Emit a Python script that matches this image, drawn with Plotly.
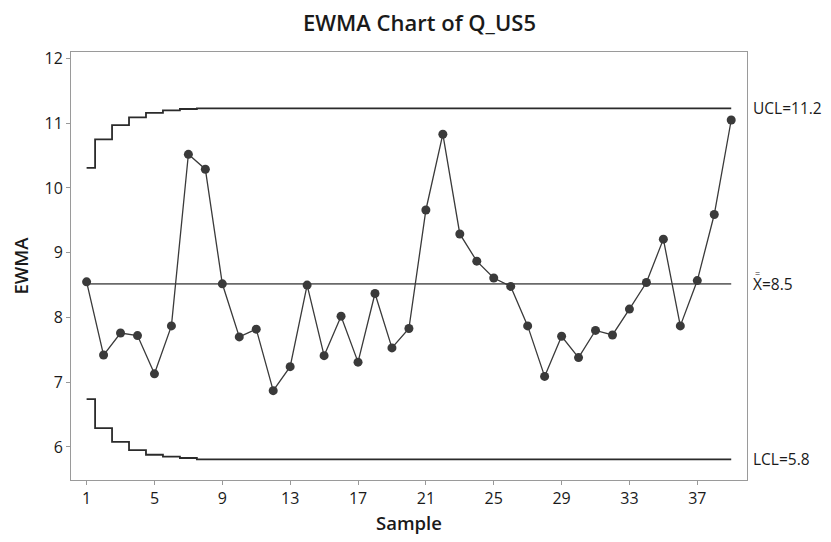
import plotly.graph_objects as go

samples = list(range(1, 40))
ewma = [8.55, 7.42, 7.76, 7.72, 7.13, 7.87, 10.52, 10.29, 8.52, 7.70,
        7.82, 6.87, 7.24, 8.50, 7.41, 8.02, 7.31, 8.37, 7.53, 7.83,
        9.66, 10.83, 9.29, 8.87, 8.61, 8.48, 7.87, 7.09, 7.71, 7.38,
        7.80, 7.73, 8.13, 8.54, 9.21, 7.87, 8.57, 9.59, 11.05]
ucl = [10.31, 10.75, 10.97, 11.09, 11.16, 11.20, 11.22, 11.23, 11.23, 11.23,
       11.23, 11.23, 11.23, 11.23, 11.23, 11.23, 11.23, 11.23, 11.23, 11.23,
       11.23, 11.23, 11.23, 11.23, 11.23, 11.23, 11.23, 11.23, 11.23, 11.23,
       11.23, 11.23, 11.23, 11.23, 11.23, 11.23, 11.23, 11.23, 11.23]
lcl = [6.74, 6.29, 6.08, 5.95, 5.88, 5.85, 5.83, 5.81, 5.81, 5.81,
       5.81, 5.81, 5.81, 5.81, 5.81, 5.81, 5.81, 5.81, 5.81, 5.81,
       5.81, 5.81, 5.81, 5.81, 5.81, 5.81, 5.81, 5.81, 5.81, 5.81,
       5.81, 5.81, 5.81, 5.81, 5.81, 5.81, 5.81, 5.81, 5.81]
center = 8.52
x_ticks = [1, 5, 9, 13, 17, 21, 25, 29, 33, 37]
y_ticks = [6, 7, 8, 9, 10, 11, 12]
labels = {"ucl": "UCL=11.2", "center": "X=8.5", "lcl": "LCL=5.8"}
double_bar = "="

FONT = "Open Sans"
TXT = "#1a1a1a"

fig = go.Figure()
fig.add_trace(go.Scatter(x=samples, y=ucl, mode="lines", line_shape="hvh",
                         line=dict(color="#2b2b2b", width=1.8), hoverinfo="skip"))
fig.add_trace(go.Scatter(x=samples, y=lcl, mode="lines", line_shape="hvh",
                         line=dict(color="#2b2b2b", width=1.8), hoverinfo="skip"))
fig.add_trace(go.Scatter(x=[samples[0], samples[-1]], y=[center, center], mode="lines",
                         line=dict(color="#6a6a6a", width=1.8), hoverinfo="skip"))
fig.add_trace(go.Scatter(x=samples, y=ewma, mode="lines+markers",
                         line=dict(color="#3a3a3a", width=1.3),
                         marker=dict(color="#3a3a3a", size=9)))

ann_font = dict(family=FONT, size=15.5, color=TXT)
for key, yv in (("ucl", ucl[-1]), ("center", center), ("lcl", lcl[-1])):
    fig.add_annotation(x=1.0, xref="paper", xanchor="left", xshift=4,
                       y=yv, yref="y", yanchor="middle",
                       text=labels[key], showarrow=False, font=ann_font)
# double bar over the X of the centre-line label
fig.add_annotation(x=1.0, xref="paper", xanchor="center", xshift=10.5,
                   y=center, yref="y", yanchor="middle", yshift=10,
                   text=double_bar, showarrow=False,
                   font=dict(family=FONT, size=9, color=TXT))

fig.update_layout(
    width=823, height=534,
    margin=dict(l=60, r=84, t=44, b=54),
    paper_bgcolor="white", plot_bgcolor="white",
    showlegend=False,
    title=dict(text="EWMA Chart of Q_US5", x=0.5, xanchor="center", y=0.971, yanchor="middle",
               font=dict(family=FONT, size=22, color=TXT, weight=600)),
)
fig.update_xaxes(range=[0.08, 39.93], tickvals=x_ticks, ticks="outside", ticklen=4,
                 tickcolor="#999999", showgrid=False, zeroline=False,
                 showline=True, linecolor="#9a9a9a", linewidth=1, mirror=True,
                 tickfont=dict(family=FONT, size=16, color=TXT),
                 title=dict(text="Sample", standoff=8,
                            font=dict(family=FONT, size=18.5, color=TXT, weight=600)))
fig.update_yaxes(range=[5.49, 12.10], tickvals=y_ticks, ticks="outside", ticklen=4,
                 tickcolor="#999999", showgrid=False, zeroline=False,
                 showline=True, linecolor="#9a9a9a", linewidth=1, mirror=True,
                 tickfont=dict(family=FONT, size=16, color=TXT),
                 title=dict(text="EWMA", standoff=12,
                            font=dict(family=FONT, size=18.5, color=TXT, weight=600)))

fig.write_html("out.html")
